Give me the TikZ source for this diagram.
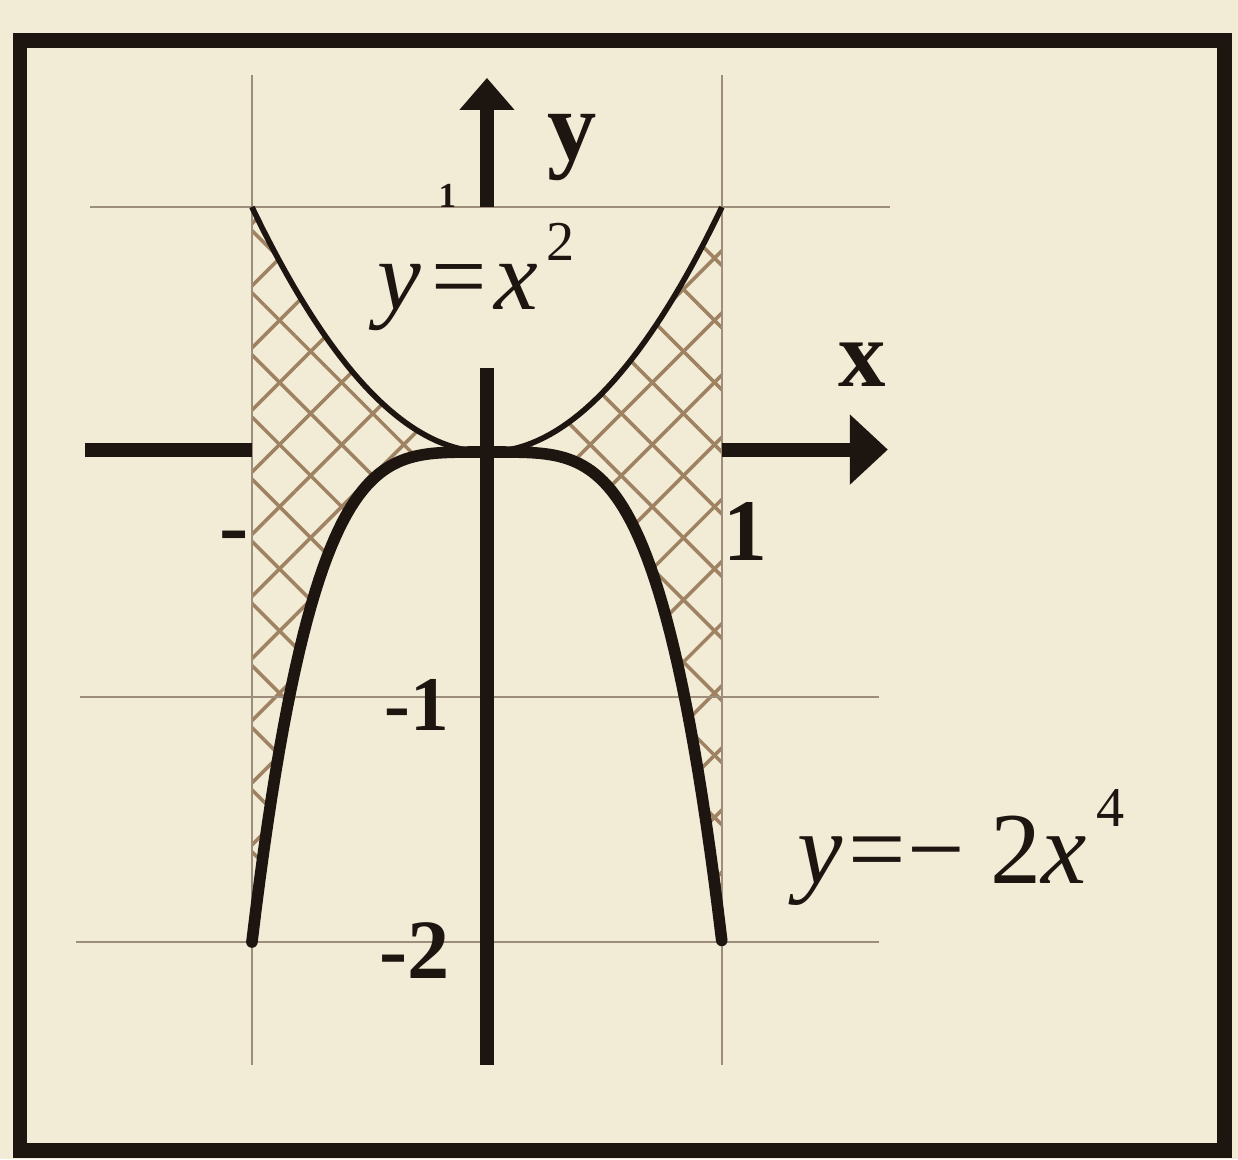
\documentclass[tikz,border=0pt]{standalone}
\usepackage{fontspec}
\setmainfont{Liberation Serif}
\usetikzlibrary{arrows.meta, patterns.meta}
\definecolor{paper}{HTML}{F2EBD6}
\definecolor{ink}{HTML}{1C1510}
\definecolor{rule}{HTML}{9C8E7A}
\definecolor{hatchc}{HTML}{9E8262}

\begin{document}
\begin{tikzpicture}[
  x=2.35cm, y=2.45cm,
  gridline/.style={rule, line width=0.7pt},
  axis/.style={ink, line width=4pt},
  hatchA/.style={pattern={Lines[angle=45, distance=12.5pt, line width=1pt]}, pattern color=hatchc},
  hatchB/.style={pattern={Lines[angle=-45, distance=12.5pt, line width=1pt]}, pattern color=hatchc},
  parab/.style={ink, line width=1.6pt},
  quart/.style={ink, line width=3.3pt, line cap=round},
  lbl/.style={inner sep=0pt, text=ink},
]

% paper and frame
\fill[paper] (-2.072,1.845) rectangle (3.196,-2.886);
\useasboundingbox (-2.072,1.845) rectangle (3.196,-2.886);
\draw[ink, line width=4.2pt] (-1.987,1.680) rectangle (3.140,-2.850);

% region between the curves
\fill[hatchA] plot[domain=-1:1, samples=80] (\x,{(\x)*(\x)}) -- plot[domain=1:-1, samples=80] (\x,{-2*(\x)^4}) -- cycle;
\fill[hatchB] plot[domain=-1:1, samples=80] (\x,{(\x)*(\x)}) -- plot[domain=1:-1, samples=80] (\x,{-2*(\x)^4}) -- cycle;

% grid
\draw[gridline] (-1,1.539) -- (-1,-2.502);
\draw[gridline] (1,1.539) -- (1,-2.502);
\draw[gridline] (-1.69,1) -- (1.715,1);
\draw[gridline] (-1.73,-1) -- (1.67,-1);
\draw[gridline] (-1.75,-2) -- (1.67,-2);

% axes
\coordinate (ybase) at (0,1);
\coordinate (ytip) at (0,1.527);
\coordinate (ytop) at (0,0.343);
\coordinate (ybot) at (0,-2.502);
\coordinate (xleft) at (-1.711,0.01);
\coordinate (xlmid) at (-1,0.01);
\coordinate (xrmid) at (1,0.01);
\coordinate (xtip) at (1.706,0.01);
\draw[axis, -{Triangle[length=0.32cm, width=0.53cm]}] (ybase) -- (ytip);
\draw[axis] (ytop) -- (ybot);
\draw[axis] (xleft) -- (xlmid);
\draw[axis, -{Triangle[length=0.38cm, width=0.68cm]}] (xrmid) -- (xtip);

% curves
\draw[parab] plot[domain=-1:1, samples=80] (\x,{(\x)*(\x)});
\draw[quart] plot[domain=-1:1, samples=120] (\x,{-2*(\x)^4});

% labels
\node[lbl, font=\fontsize{28}{30}\selectfont\bfseries] (ylab) at (0.362,1.241) {y};
\node[lbl, font=\fontsize{27}{29}\selectfont\bfseries] (xlab) at (1.596,0.355) {x};
\node[lbl, anchor=base east, font=\fontsize{10}{11}\selectfont\bfseries] (tickp1) at (-0.128,0.996) {1};
\node[lbl, anchor=base west, font=\fontsize{25}{27}\selectfont\bfseries] (tickx1) at (1.004,-0.441) {1};
\node[lbl, anchor=east, font=\fontsize{25}{27}\selectfont\bfseries] (tickxm1) at (-1.009,-0.371) {-};
\node[lbl, anchor=base east, font=\fontsize{22}{24}\selectfont\bfseries] (tickm1) at (-0.157,-1.135) {-1};
\node[lbl, anchor=base east, font=\fontsize{24}{26}\selectfont\bfseries] (tickm2) at (-0.157,-2.150) {-2};
\node[lbl, anchor=base west, font=\fontsize{28}{30}\selectfont] (eqpar) at (-0.468,0.580)
  {\textit{y}\hspace{0.1em}=\hspace{0.08em}\textit{x}\hspace{0.08em}\raisebox{0.5em}{\fontsize{16}{16}\selectfont 2}};
\node[lbl, anchor=base west, font=\fontsize{29}{31}\selectfont] (eqquart) at (1.319,-1.759)
  {\textit{y}\hspace{0.05em}=\hspace{0.02em}−\hspace{0.25em}2\textit{x}\hspace{0.1em}\raisebox{0.55em}{\fontsize{16}{16}\selectfont 4}};

\end{tikzpicture}
\end{document}
